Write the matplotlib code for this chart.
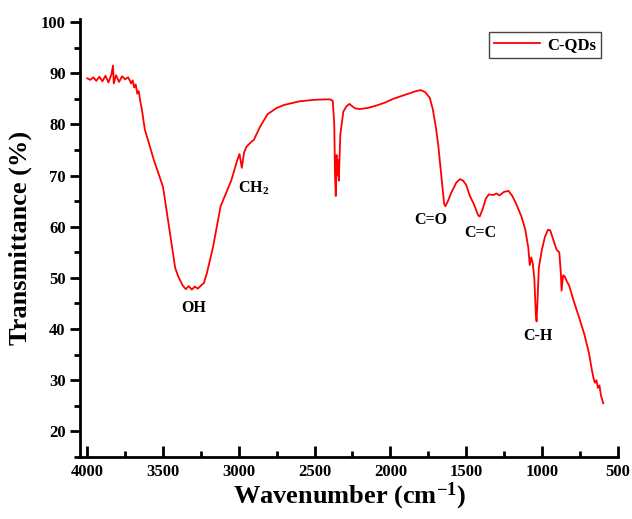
import numpy as np
import matplotlib
matplotlib.use('Agg')
import matplotlib.pyplot as plt
from matplotlib.ticker import MultipleLocator

plt.rcParams['font.family'] = 'Liberation Serif'
plt.rcParams['font.weight'] = 'bold'
plt.rcParams['mathtext.fontset'] = 'custom'
plt.rcParams['mathtext.rm'] = 'Liberation Serif:bold'
plt.rcParams['mathtext.it'] = 'Liberation Serif:bold'

# FTIR spectrum of C-QDs
wavenumber = [4000, 3980, 3960, 3940, 3920, 3900, 3880, 3860, 3840, 3830, 3825, 3810,
              3790, 3770, 3750, 3730, 3710, 3700, 3690, 3680, 3670, 3660, 3650, 3640,
              3620, 3600, 3560, 3500, 3440, 3420, 3400, 3370, 3350, 3330, 3310, 3290,
              3270, 3250, 3230, 3210, 3190, 3170, 3120, 3050, 3010, 2995, 2980, 2965,
              2950, 2920, 2900, 2860, 2810, 2750, 2700, 2600, 2500, 2400, 2380, 2370,
              2365, 2360, 2355, 2350, 2345, 2340, 2330, 2310, 2290, 2270, 2250, 2230,
              2200, 2150, 2100, 2040, 1980, 1930, 1880, 1830, 1800, 1770, 1740, 1720,
              1700, 1684, 1664, 1645, 1637, 1620, 1600, 1565, 1540, 1520, 1500, 1475,
              1450, 1420, 1410, 1390, 1370, 1350, 1320, 1300, 1280, 1250, 1220, 1195,
              1170, 1135, 1110, 1090, 1080, 1070, 1060, 1050, 1040, 1035, 1028, 1020,
              1000, 980, 960, 945, 925, 903, 885, 875, 870, 860, 850, 835,
              820, 790, 757, 720, 690, 670, 660, 650, 640, 630, 620, 610,
              600, 595]
transmittance = [89.0, 88.7, 89.2, 88.5, 89.3, 88.4, 89.5, 88.2, 89.8, 91.5, 88.0, 89.6,
                 88.3, 89.4, 88.8, 89.2, 88.0, 88.6, 87.2, 87.8, 86.0, 86.5, 84.5, 83.0,
                 79.0, 77.0, 73.0, 67.8, 56.0, 52.0, 50.3, 48.5, 47.8, 48.4, 47.7, 48.3,
                 47.9, 48.5, 49.0, 51.0, 53.5, 56.0, 64.0, 69.0, 73.0, 74.2, 71.5, 74.5,
                 75.6, 76.5, 77.0, 79.5, 82.0, 83.2, 83.8, 84.5, 84.8, 84.9, 84.6, 80.0,
                 70.0, 66.0, 74.0, 70.0, 73.0, 69.0, 78.0, 82.5, 83.5, 84.0, 83.5, 83.1,
                 83.0, 83.2, 83.6, 84.2, 85.0, 85.5, 86.0, 86.5, 86.7, 86.3, 85.2, 83.0,
                 79.5, 76.0, 70.0, 64.5, 64.0, 65.0, 66.5, 68.6, 69.3, 69.0, 68.2, 66.0,
                 64.5, 62.2, 62.0, 63.5, 65.5, 66.3, 66.2, 66.5, 66.1, 66.8, 67.0, 66.0,
                 64.5, 62.0, 59.5, 56.0, 52.5, 54.0, 52.8, 50.0, 43.0, 41.5, 46.0, 52.0,
                 55.5, 58.0, 59.4, 59.3, 57.5, 55.5, 55.0, 51.0, 47.5, 50.5, 50.3, 49.3,
                 48.5, 45.5, 42.5, 39.0, 35.4, 32.0, 30.5, 29.5, 30.0, 28.5, 29.0, 27.0,
                 26.0, 25.5]

# band labels
band_labels = ['OH', 'CH$_2$', 'C=O', 'C=C', 'C-H']
band_x = [3300, 2900, 1730, 1406, 1029]
band_y = [44.2, 67.6, 61.4, 58.8, 38.7]


def main():
    fig = plt.figure(figsize=(6.32, 5.19), dpi=100)
    ax = fig.add_axes([0.127, 0.1195, 0.851, 0.843])
    ax.plot(wavenumber, transmittance, color='#ff0000', linewidth=1.3, label='C-QDs')
    for lab, x, y in zip(band_labels, band_x, band_y):
        ax.text(x, y, lab, ha='center', va='center', fontsize=11.5, fontweight='bold')

    ax.set_xlim(4046, 497)
    ax.set_ylim(15, 100.5)
    ax.xaxis.set_major_locator(MultipleLocator(500))
    ax.xaxis.set_minor_locator(MultipleLocator(250))
    ax.yaxis.set_major_locator(MultipleLocator(10))
    ax.yaxis.set_minor_locator(MultipleLocator(5))
    ax.set_yticks(range(20, 101, 10))

    for s in ['top', 'right']:
        ax.spines[s].set_visible(False)
    for s in ['left', 'bottom']:
        ax.spines[s].set_linewidth(2)
    ax.tick_params(axis='x', which='major', direction='in', length=8, width=2, labelsize=12, pad=5)
    ax.tick_params(axis='x', which='minor', direction='in', length=4, width=2)
    ax.tick_params(axis='y', which='major', direction='out', length=7, width=2, labelsize=12)
    ax.tick_params(axis='y', which='minor', direction='out', length=4, width=2)
    for t in ax.get_xticklabels() + ax.get_yticklabels():
        t.set_fontweight('bold')

    ax.set_xlabel('Wavenumber (cm$^{-1}$)', fontsize=19, fontweight='bold', labelpad=0.5)
    ax.set_ylabel('Transmittance (%)', fontsize=19, fontweight='bold', labelpad=6)

    leg = ax.legend(loc='upper right', bbox_to_anchor=(0.968, 0.971), fontsize=12,
                    fancybox=False, edgecolor='#444444', handlelength=2.8,
                    handletextpad=0.4, borderpad=0.3, borderaxespad=0, framealpha=1)
    leg.get_frame().set_linewidth(1)
    for t in leg.get_texts():
        t.set_fontweight('bold')

    fig.savefig('out.png', dpi=100)


if __name__ == '__main__':
    main()
